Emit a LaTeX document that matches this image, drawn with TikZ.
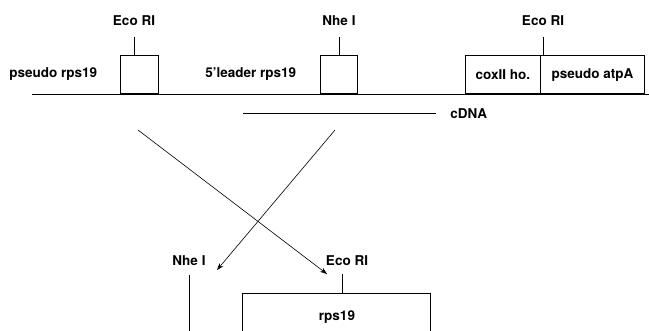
\documentclass[tikz,border=0pt]{standalone}
\usepackage{fontspec}
\setmainfont{TeX Gyre Heros}
\usetikzlibrary{arrows.meta, positioning}
\tikzset{
  every picture/.style={font=\bfseries\fontsize{13.5}{16}\selectfont, line width=0.9pt, x=1pt, y=-1pt},
  gene/.style={draw, minimum height=38pt, inner sep=0pt, anchor=south west},
  site/.style={inner sep=0pt, anchor=base},
  label/.style={inner sep=0pt, anchor=base west},
  arrow/.style={-{Stealth[length=7pt, width=5pt]}, line width=0.6pt},
}

\begin{document}
\begin{tikzpicture}
  \clip (0, 0) rectangle (649, 330);
  % genomic fragment
  \draw (32, 94) coordinate (dnaL) -- (649, 94) coordinate (dnaR);
  \node[gene, minimum width=38pt] (eco1box) at (120, 94) {};
  \node[gene, minimum width=37pt] (nhebox) at (320, 94) {};
  \node[gene, minimum width=75pt] (cox) at (465, 94) {coxII ho.};
  \node[gene, minimum width=104pt] (atp) at (540, 94) {pseudo atpA};
  \node[label] (pseudo) at (9, 77) {pseudo rps19};
  \node[label] (leader) at (205, 77) {5'leader rps19};
  \node[site] (eco1) at (134, 25) {Eco RI};
  \node[site] (nhe) at (339, 25) {Nhe I};
  \node[site] (eco2) at (543, 25) {Eco RI};
  \draw (eco1.south) ++(0, 11) -- (eco1.south |- eco1box.north);
  \draw (nhe.south) ++(0, 11) -- (nhe.south |- nhebox.north);
  \draw (eco2.south) ++(0, 11) -- (eco2.south |- atp.north);
  % cDNA
  \coordinate (cL) at (243, 113); \coordinate (cR) at (436, 113);
  \draw (cL) -- (cR);
  \node[label, anchor=west] (cdna) at (450, 114) {cDNA};
  % rearrangement
  \coordinate (a1) at (138, 130); \coordinate (b1) at (327, 274);
  \coordinate (a2) at (335, 130); \coordinate (b2) at (217, 270);
  \draw[arrow] (a1) -- (b1);
  \draw[arrow] (a2) -- (b2);
  % mitochondrial rps19
  \node[site] (nhe2) at (189, 265) {Nhe I};
  \node[site] (eco3) at (347, 265) {Eco RI};
  \node[draw, minimum width=188pt, minimum height=60pt, anchor=north west, inner sep=0pt] (rps) at (242, 293) {};
  \node[site] (rpsl) at (337, 320) {rps19};
  \coordinate (bottom) at (0, 340);
  \draw (nhe2.south) ++(0, 9) coordinate (n2) -- (n2 |- bottom);
  \draw (342, 274) coordinate (e3) -- (e3 |- rps.north);
\end{tikzpicture}
\end{document}
